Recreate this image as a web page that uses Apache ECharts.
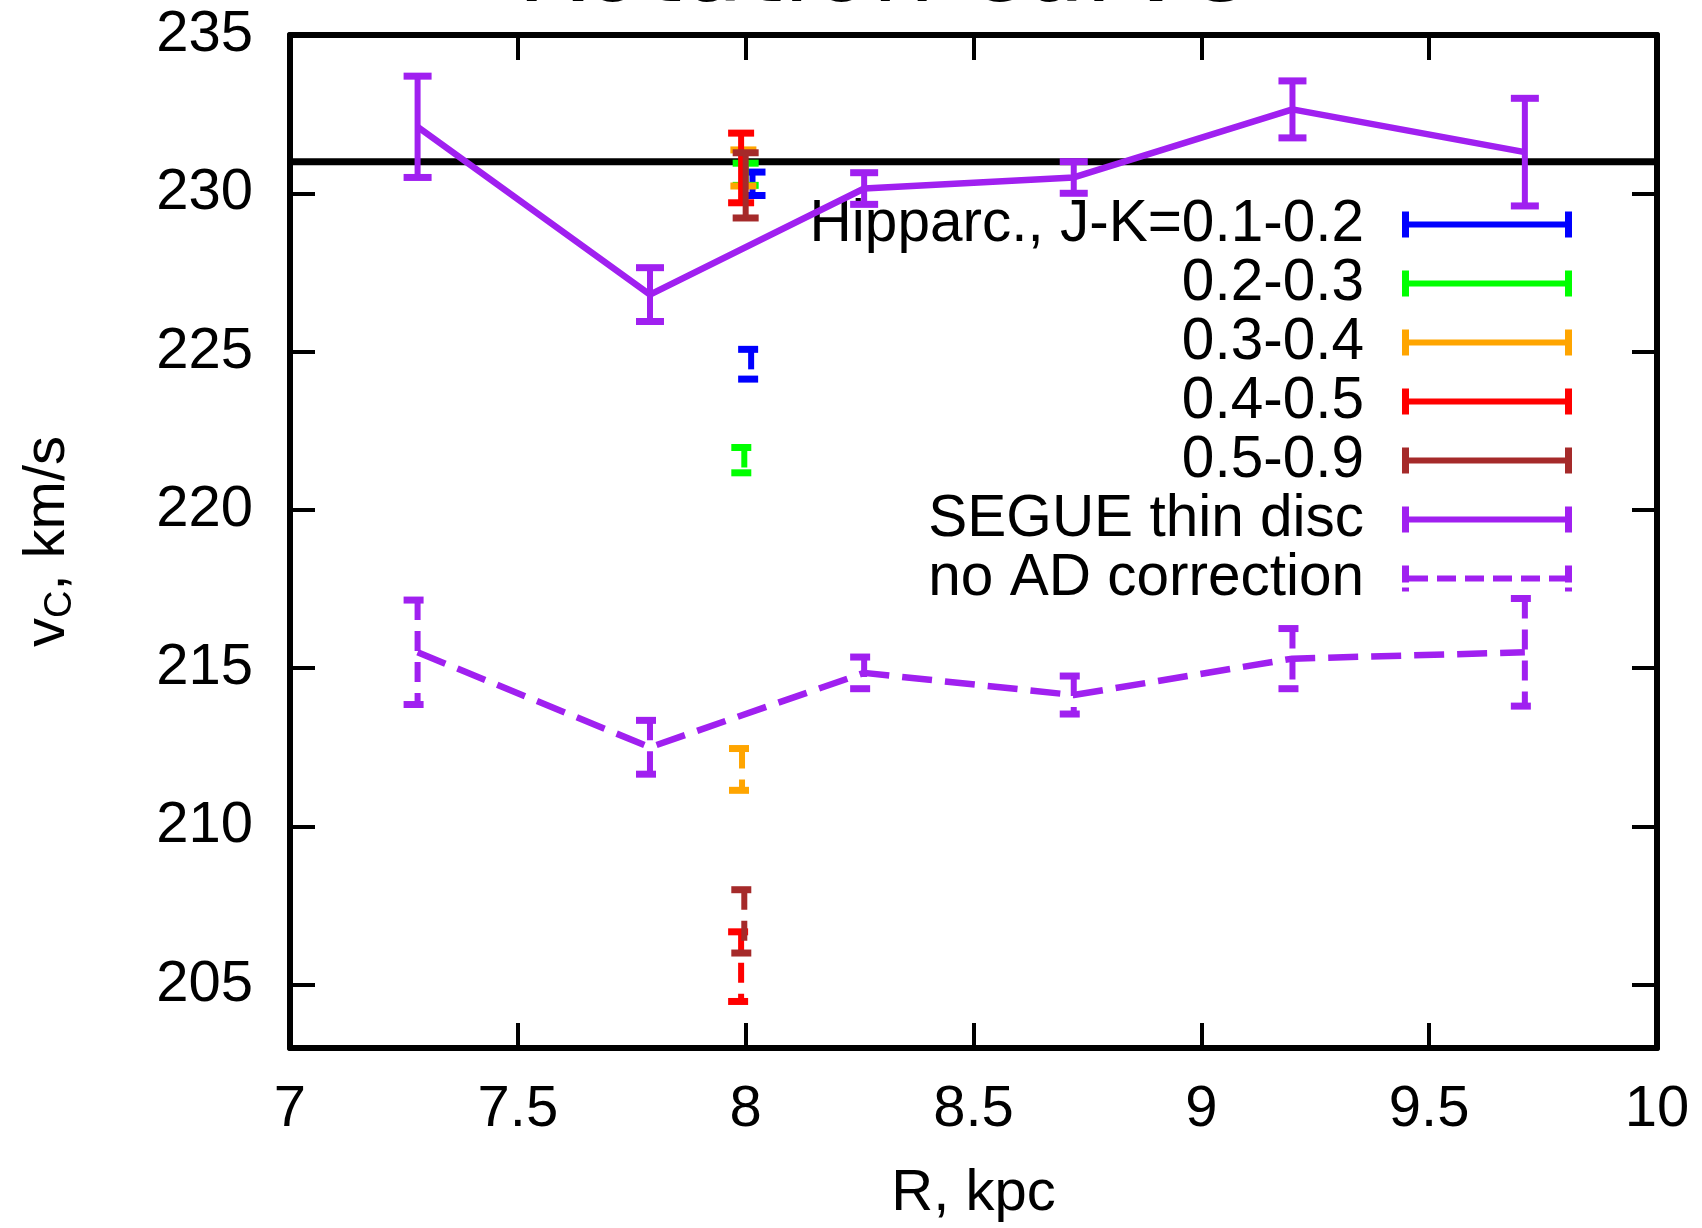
<!DOCTYPE html>
<html><head><meta charset="utf-8">
<script src="https://cdn.jsdelivr.net/npm/echarts@6/dist/echarts.min.js"></script>
<style>html,body{margin:0;padding:0;background:#fff}#c{width:1702px;height:1228px}</style>
</head><body><div id="c"></div>
<script>
// ---- data ----
const hipNames = ['Hipparc., J-K=0.1-0.2', '0.2-0.3', '0.3-0.4', '0.4-0.5', '0.5-0.9'];
const hipR = [8.015, 8.0, 7.995, 7.99, 8.0];
const hipV = [230.3, 230.6, 230.8, 230.8, 230.25];
const hipErr = [0.37, 0.35, 0.57, 1.1, 1.03];
const hipRNoAD = [8.012, 7.997, 7.992, 7.99, 7.997];
const hipVNoAD = [224.6, 221.57, 211.8, 205.57, 207.0];
const hipErrNoAD = [0.47, 0.4, 0.66, 1.1, 1.0];

const segueName = 'SEGUE thin disc';
const segueR = [7.28, 7.79, 8.26, 8.72, 9.2, 9.71];
const segueV = [232.1, 226.8, 230.15, 230.5, 232.65, 231.3];
const segueErr = [1.6, 0.85, 0.5, 0.5, 0.9, 1.7];

const noADName = 'no AD correction';
const noADV = [215.5, 212.5, 214.85, 214.15, 215.3, 215.5];
const noADErr = [1.65, 0.85, 0.5, 0.6, 0.95, 1.7];

const refR = [7, 10];
const refV = 231;

// ---- styles ----
const hipColors = ['#0000ff', '#00ff00', '#ffa500', '#ff0000', '#a52a2a'];
const purple = '#a020f0';
const FONT = 'Liberation Sans';

function errorBars(color, dashed, hw) {
  return function (params, api) {
    const x = api.value(0), y = api.value(1), e = api.value(2);
    const p1 = api.coord([x, y + e]);
    const p2 = api.coord([x, y - e]);
    const st = {stroke: color, lineWidth: 6, fill: null, lineDash: dashed ? [20, 11] : null};
    const cs = Object.assign({}, st, {lineWidth: 7});
    return {type: 'group', children: [
      {type: 'line', shape: {x1: p1[0], y1: p1[1], x2: p2[0], y2: p2[1]}, style: st},
      {type: 'line', shape: {x1: p1[0] - hw, y1: p1[1], x2: p1[0] + hw, y2: p1[1]}, style: cs},
      {type: 'line', shape: {x1: p2[0] - hw, y1: p2[1], x2: p2[0] + hw, y2: p2[1]}, style: cs}
    ]};
  };
}

const solidIcon = 'path://M0,0 L7,0 L7,10 L163,10 L163,0 L170,0 L170,26 L163,26 L163,16 L7,16 L7,26 L0,26 Z';
let dashedIcon = 'path://M0,0 L7,0 L7,17 L0,17 Z M0,22 L7,22 L7,26 L0,26 Z M163,0 L170,0 L170,17 L163,17 Z M163,22 L170,22 L170,26 L163,26 Z';
for (let x = 7; x < 163; x += 28) {
  const x2 = Math.min(x + 19, 163);
  dashedIcon += ' M' + x + ',10 L' + x2 + ',10 L' + x2 + ',16 L' + x + ',16 Z';
}

const series = [];
series.push({type: 'line', name: 'ref', data: refR.map(r => [r, refV]), symbol: 'none', silent: true,
  lineStyle: {color: '#000', width: 7}, z: 1});
hipNames.forEach((n, i) => {
  series.push({type: 'custom', name: n, itemStyle: {color: hipColors[i]}, z: 3,
    renderItem: errorBars(hipColors[i], false, 13), encode: {x: 0, y: 1},
    data: [[hipR[i], hipV[i], hipErr[i]]]});
});
hipNames.forEach((n, i) => {
  series.push({type: 'custom', name: n, itemStyle: {color: hipColors[i]}, z: 3,
    renderItem: errorBars(hipColors[i], true, 13), encode: {x: 0, y: 1},
    data: [[hipRNoAD[i], hipVNoAD[i], hipErrNoAD[i]]]});
});
series.push({type: 'custom', name: segueName, itemStyle: {color: purple}, z: 4,
  renderItem: errorBars(purple, false, 14), encode: {x: 0, y: 1},
  data: segueR.map((r, i) => [r, segueV[i], segueErr[i]])});
series.push({type: 'custom', name: noADName, itemStyle: {color: purple}, z: 4,
  renderItem: errorBars(purple, true, 14), encode: {x: 0, y: 1},
  data: segueR.map((r, i) => [r, noADV[i], noADErr[i]])});
series.push({type: 'line', name: segueName, data: segueR.map((r, i) => [r, segueV[i]]), symbol: 'none',
  lineStyle: {color: purple, width: 6.5}, itemStyle: {color: purple}, z: 4});
series.push({type: 'line', name: noADName, data: segueR.map((r, i) => [r, noADV[i]]), symbol: 'none',
  lineStyle: {color: purple, width: 6.5, type: [30, 13]}, itemStyle: {color: purple}, z: 4});

const axisLine = {show: true, onZero: false, lineStyle: {color: '#000', width: 6}};
const axisTick = {show: true, inside: true, length: 25, lineStyle: {color: '#000', width: 4}};
const labelStyle = {color: '#000', fontFamily: FONT, fontSize: 58};

const option = {
  backgroundColor: '#fff',
  animation: false,
  title: {text: 'Rotation curve', left: 512, top: -80,
    textStyle: {fontFamily: 'DejaVu Sans', fontSize: 100, fontWeight: 'normal', color: '#000'}},
  grid: {left: 290, right: 45, top: 35, bottom: 175.5},
  legend: {
    orient: 'vertical', right: 125, top: 190, align: 'right',
    itemWidth: 170, itemHeight: 26, itemGap: 0, selectedMode: false,
    textStyle: {fontFamily: FONT, fontSize: 58.5, color: '#000', lineHeight: 58, padding: [0, 33, 0, 0]},
    itemStyle: {borderWidth: 0},
    data: hipNames.concat([segueName]).map(n => ({name: n, icon: solidIcon}))
      .concat([{name: noADName, icon: dashedIcon}])
  },
  xAxis: [
    {type: 'value', min: 7, max: 10, interval: 0.5, position: 'bottom', axisLine, axisTick,
      splitLine: {show: false}, axisLabel: Object.assign({margin: 33}, labelStyle),
      name: 'R, kpc', nameLocation: 'middle', nameGap: 117,
      nameTextStyle: {color: '#000', fontFamily: FONT, fontSize: 58}},
    {type: 'value', min: 7, max: 10, interval: 0.5, position: 'top', axisLine, axisTick,
      splitLine: {show: false}, axisLabel: {show: false}}
  ],
  yAxis: [
    {type: 'value', min: 203, max: 235, splitNumber: 6, position: 'left', axisLine, axisTick,
      splitLine: {show: false}, axisLabel: Object.assign({margin: 37, showMinLabel: false}, labelStyle),
      name: '{a|v}{b|C}{a|, km/s}', nameLocation: 'middle', nameRotate: 90, nameGap: 210,
      nameTextStyle: {color: '#000', fontFamily: FONT, fontSize: 58,
        rich: {a: {fontFamily: FONT, fontSize: 58, color: '#000', lineHeight: 64},
               b: {fontFamily: FONT, fontSize: 38, color: '#000', verticalAlign: 'bottom', lineHeight: 64}}}},
    {type: 'value', min: 203, max: 235, splitNumber: 6, position: 'right', axisLine, axisTick,
      splitLine: {show: false}, axisLabel: {show: false}}
  ],
  series
};
const chart = echarts.init(document.getElementById('c'));
chart.setOption(option);
</script>
</body></html>
